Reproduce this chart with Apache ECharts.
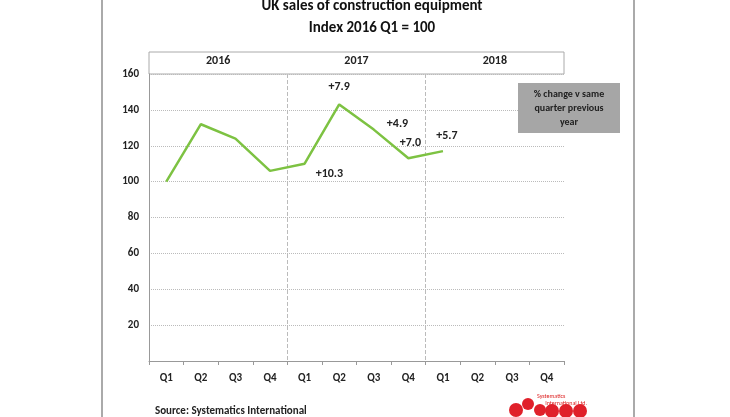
<!DOCTYPE html>
<html><head><meta charset="utf-8">
<script src="https://cdn.jsdelivr.net/npm/echarts@6/dist/echarts.min.js"></script>
<style>html,body{margin:0;padding:0;background:#fff}#c{width:730px;height:417px}</style>
</head><body><div id="c"></div>
<script>
const quarters = ['Q1','Q2','Q3','Q4','Q1','Q2','Q3','Q4','Q1','Q2','Q3','Q4'];
const years = ['2016','2017','2018'];
const indexValues = [100,132,124,106,110,143,129,113,117,null,null,null];
const changeLabels = ['','','','','+10.3','+7.9','+4.9','+7.0','+5.7','','',''];
const yTicks = [20,40,60,80,100,120,140,160];

const chart = echarts.init(document.getElementById('c'));
const font = 'Calibri, Carlito, "Liberation Sans", Arial, sans-serif';
const labelPos = {4:['right',[6,10]],5:['top',[0,-6]],6:['right',[8,-6]],7:['top',[2,-4]],8:['top',[4,-4]]};
chart.setOption({
  animation:false,
  title:{text:'UK sales of construction equipment\nIndex 2016 Q1 = 100',left:367,textAlign:'center',top:-10,
    textStyle:{fontFamily:font,fontWeight:'bold',fontSize:15,lineHeight:22,color:'#111'}},
  grid:{left:149,right:166,top:74,bottom:56},
  xAxis:[{type:'category',data:quarters,boundaryGap:true,
    axisLine:{lineStyle:{color:'#999'}},axisTick:{show:true,length:4,lineStyle:{color:'#999'}},
    axisLabel:{fontFamily:font,fontWeight:'bold',fontSize:11,color:'#222',margin:12}},
   {type:'category',data:years,position:'top',boundaryGap:true,
    axisLine:{show:false},axisTick:{show:false},
    axisLabel:{fontFamily:font,fontWeight:'bold',fontSize:12,color:'#222',margin:7},
    splitLine:{show:true,showMinLine:false,showMaxLine:false,lineStyle:{color:'#bbb',type:'dashed'}}}],
  yAxis:{type:'value',min:0,max:160,interval:20,
    axisLine:{show:true,lineStyle:{color:'#999'}},axisTick:{show:false},
    axisLabel:{fontFamily:font,fontWeight:'bold',fontSize:11,color:'#222',margin:10,
      formatter:v=>yTicks.includes(v)?String(v):''},
    splitLine:{lineStyle:{color:'#bbb',type:'dotted'}}},
  series:[{type:'line',data:indexValues.map((v,i)=>{
      const o={value:v};
      if(changeLabels[i]){o.label={show:true,formatter:changeLabels[i],position:labelPos[i][0],offset:labelPos[i][1]};}
      return o;}),
    symbol:'circle',symbolSize:0.1,showSymbol:true,itemStyle:{color:'#7dc242'},
    lineStyle:{color:'#7dc242',width:2.5},
    label:{fontFamily:font,fontWeight:'bold',fontSize:12,color:'#222'}}],
  graphic:[
    {type:'line',shape:{x1:102,y1:0,x2:102,y2:417},style:{stroke:'#aaa',lineWidth:2}},
    {type:'line',shape:{x1:634,y1:0,x2:634,y2:417},style:{stroke:'#aaa',lineWidth:2}},
    {type:'rect',shape:{x:149,y:52,width:415,height:22},style:{fill:'none',stroke:'#aaa',lineWidth:1}},
    {type:'rect',z:100,shape:{x:518,y:83,width:102,height:50},style:{fill:'#a6a6a6'}},
    {type:'text',z:101,x:569,y:108,style:{text:'% change v same\nquarter previous\nyear',align:'center',verticalAlign:'middle',
      font:'bold 10px '+font,fill:'#222',lineHeight:14}},
    {type:'text',x:155,y:406,style:{text:'Source: Systematics International',font:'bold 11px '+font,fill:'#222'}},
    {type:'text',x:537,y:393,style:{text:'Systematics\n      International Ltd.',font:'6px '+font,fill:'#d22',lineHeight:7}},
    {type:'circle',shape:{cx:516,cy:410,r:7},style:{fill:'#e0202a'}},
    {type:'circle',shape:{cx:528,cy:404,r:6},style:{fill:'#e0202a'}},
    {type:'circle',shape:{cx:540,cy:410,r:6},style:{fill:'#e0202a'}},
    {type:'circle',shape:{cx:552,cy:411,r:7},style:{fill:'#e0202a'}},
    {type:'circle',shape:{cx:566,cy:411,r:7},style:{fill:'#e0202a'}},
    {type:'circle',shape:{cx:580,cy:411,r:7},style:{fill:'#e0202a'}}
  ]
});
</script></body></html>
